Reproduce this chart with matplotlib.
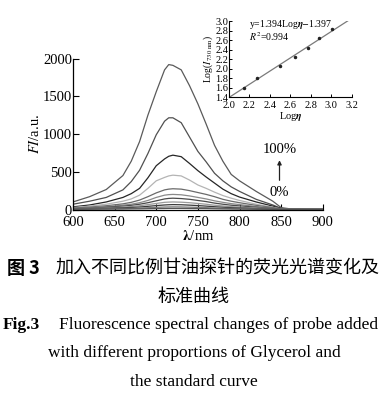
import matplotlib
matplotlib.use('Agg')
import matplotlib.pyplot as plt

plt.rcParams['font.family'] = ['Liberation Serif', 'DejaVu Serif']
plt.rcParams['mathtext.fontset'] = 'stix'

# 发射光谱
wavelength = [600, 620, 640, 660, 670, 680, 690, 700, 710, 715, 720, 730, 740,
              750, 760, 770, 780, 790, 800, 820, 840, 850, 860, 880, 900]
spectra = [
    [100, 170, 265, 450, 640, 900, 1250, 1560, 1850, 1920, 1910, 1850, 1640,
     1400, 1130, 850, 640, 465, 380, 240, 110, 25, 10, 6, 5],
    [70, 110, 160, 260, 370, 520, 742, 990, 1170, 1215, 1215, 1150, 960,
     770, 630, 480, 380, 300, 240, 135, 60, 15, 6, 4, 3],
    [35, 60, 100, 160, 210, 280, 420, 580, 670, 705, 720, 700, 610,
     515, 430, 350, 270, 210, 165, 100, 45, 12, 5, 3, 2],
    [26, 45, 70, 110, 140, 190, 280, 380, 425, 445, 455, 445, 390,
     325, 280, 230, 185, 150, 120, 70, 30, 8, 3, 2, 2],
    [20, 32, 50, 75, 95, 125, 170, 220, 260, 270, 275, 270, 250,
     225, 200, 170, 135, 110, 90, 55, 25, 8, 2, 1, 1],
    [15, 24, 38, 58, 70, 90, 120, 160, 190, 197, 200, 195, 180,
     160, 140, 115, 95, 78, 65, 40, 18, 6, 2, 1, 1],
    [12, 19, 30, 45, 55, 70, 90, 115, 140, 147, 150, 145, 135,
     120, 105, 85, 70, 57, 48, 30, 14, 5, 2, 1, 1],
    [10, 14, 21, 32, 40, 50, 65, 80, 95, 98, 100, 97, 90,
     80, 70, 57, 47, 38, 32, 20, 10, 4, 1, 1, 1],
    [8, 11, 16, 22, 27, 33, 42, 52, 60, 63, 65, 63, 58,
     52, 45, 37, 30, 24, 20, 13, 7, 3, 1, 1, 1],
    [6, 8, 10, 13, 16, 19, 24, 29, 33, 34, 35, 34, 31,
     28, 25, 20, 17, 14, 12, 8, 4, 2, 1, 1, 1],
    [4, 5, 6, 7, 8, 9, 11, 13, 14, 15, 15, 15, 14,
     13, 12, 10, 8, 7, 6, 4, 2, 1, 1, 1, 1],
]
colors = ['#5a5a5a', '#505050', '#262626', '#b4b4b4', '#6a6a6a', '#8a8a8a',
          '#4a4a4a', '#9a9a9a', '#3a3a3a', '#7a7a7a', '#555555']

# 标准曲线
log_eta = [2.15, 2.27, 2.50, 2.64, 2.77, 2.88, 3.01]
log_I = [1.60, 1.80, 2.05, 2.25, 2.44, 2.64, 2.83]
slope, intercept = 1.394, -1.397
fit_x = [2.0, 3.2]

fig = plt.figure(figsize=(3.88, 4.08), dpi=100)

ax = fig.add_axes([0.188, 0.4865, 0.644, 0.370])
for ys, c in zip(spectra, colors):
    ax.plot(wavelength, ys, color=c, lw=0.9)
ax.set_xlim(600, 900)
ax.set_ylim(0, 2000)
ax.set_xticks(range(600, 901, 50))
ax.set_yticks(range(0, 2001, 500))
for s in ['top', 'right']:
    ax.spines[s].set_visible(False)
for s in ['left', 'bottom']:
    ax.spines[s].set_linewidth(0.9)
ax.tick_params(direction='in', length=4, width=0.8, labelsize=10.5, pad=0.5)
ax.tick_params(axis='x', pad=4.5)
plt.setp(ax.get_yticklabels(), va='center_baseline')
ax.set_xlabel(r'$\mathbf{\lambda}$/nm', fontsize=10.5, labelpad=0.5)
ax.set_ylabel(r'$FI$/a.u.', fontsize=10.5, labelpad=1)

ax.annotate('', xy=(848, 690), xytext=(848, 350),
            arrowprops=dict(arrowstyle='-|>', color='#222222', lw=0.9,
                            mutation_scale=6))
ax.text(848, 800, '100%', ha='center', va='center', fontsize=10.5)
ax.text(848, 225, '0%', ha='center', va='center', fontsize=10.5)

ins = fig.add_axes([0.590, 0.762, 0.317, 0.186])
ins.plot(fit_x, [slope * x + intercept for x in fit_x], color='#7a7a7a', lw=0.9)
ins.plot(log_eta, log_I, 'o', color='#222222', ms=1.5)
ins.set_xlim(2.0, 3.2)
ins.set_ylim(1.4, 3.0)
ins.set_xticks([2.0, 2.2, 2.4, 2.6, 2.8, 3.0, 3.2])
ins.set_yticks([1.4, 1.6, 1.8, 2.0, 2.2, 2.4, 2.6, 2.8, 3.0])
for s in ['top', 'right']:
    ins.spines[s].set_visible(False)
for s in ['left', 'bottom']:
    ins.spines[s].set_linewidth(0.8)
ins.tick_params(direction='in', length=2.5, width=0.7, labelsize=7.5, pad=0.5)
ins.tick_params(axis='x', pad=3)
ins.set_xlabel(r'Log$\boldsymbol{\eta}$', fontsize=7.5, labelpad=0)
ins.set_ylabel(r'Log($I_{730\ \mathrm{nm}}$)', fontsize=7, labelpad=0)
ins.text(2.2, 2.93, r'y=1.394Log$\boldsymbol{\eta}$$-$1.397', fontsize=7, va='center')
ins.text(2.2, 2.68, r'$R^2$=0.994', fontsize=7, va='center')

cjk = ['Noto Sans CJK SC', 'DejaVu Sans']
fig.text(0.018, 1 - 268 / 408, '图 3', fontsize=13, fontweight='bold',
         family=cjk, va='center', ha='left')
fig.text(0.142, 1 - 268 / 408, '加入不同比例甘油探针的荧光光谱变化及', fontsize=13,
         family=cjk, va='center', ha='left')
fig.text(0.5, 1 - 297 / 408, '标准曲线', fontsize=13, family=cjk,
         va='center', ha='center')
fig.text(0.008, 1 - 325 / 408, 'Fig.3', fontsize=12.5, fontweight='bold',
         va='center', ha='left')
fig.text(0.152, 1 - 325 / 408, 'Fluorescence spectral changes of probe added',
         fontsize=12.5, va='center', ha='left')
fig.text(0.5, 1 - 353 / 408, 'with different proportions of Glycerol and',
         fontsize=12.5, va='center', ha='center')
fig.text(0.5, 1 - 382 / 408, 'the standard curve', fontsize=12.5,
         va='center', ha='center')

fig.savefig('out.png', dpi=100)
